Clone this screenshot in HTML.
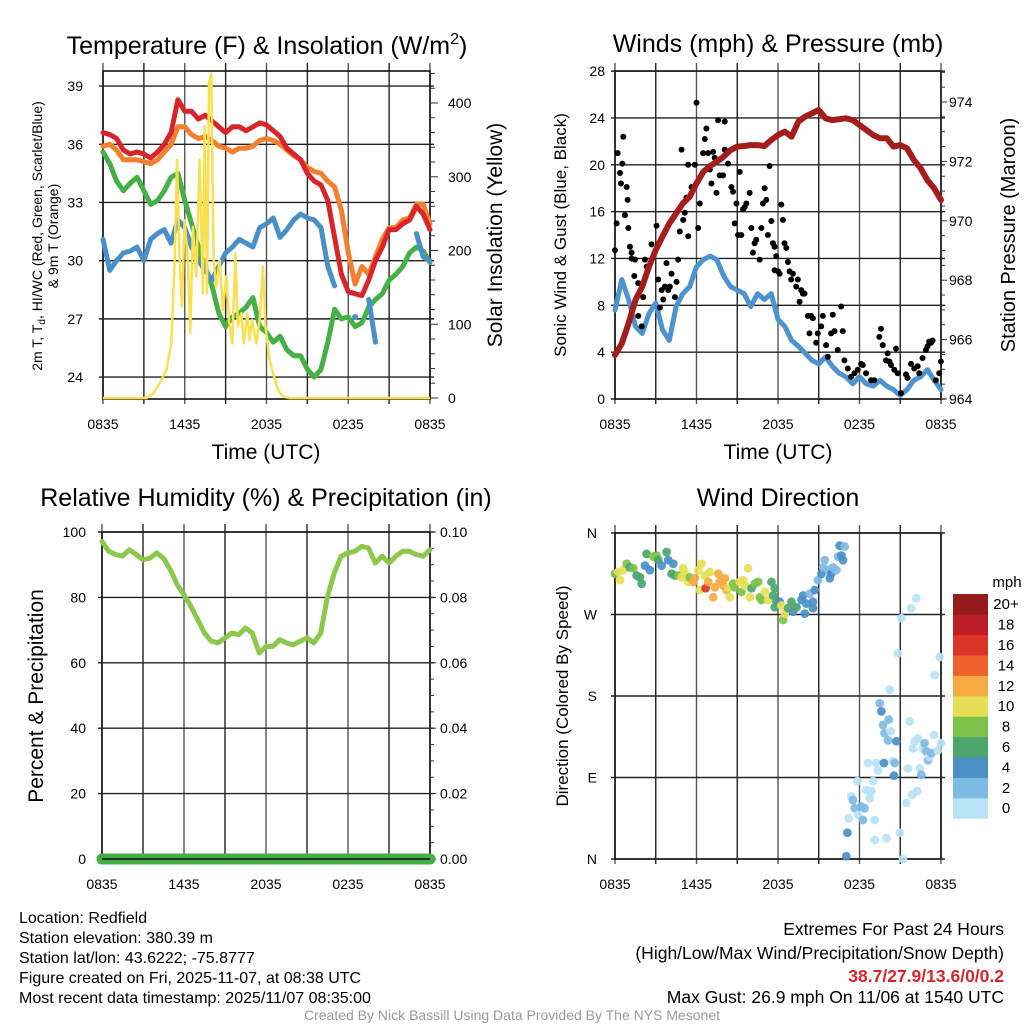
<!DOCTYPE html>
<html><head><meta charset="utf-8"><style>
html,body{margin:0;padding:0;background:#fff}
svg{display:block}
text{font-family:"Liberation Sans",Arial,sans-serif;fill:#000}
</style></head><body>
<svg id="chart" width="1024" height="1024" viewBox="0 0 1024 1024" xmlns="http://www.w3.org/2000/svg">
<rect x="0" y="0" width="1024" height="1024" fill="#fff"/>
<g id="g1"></g>
<g id="g2"></g>
<g id="g3"></g>
<g id="g4"></g>

<text x="267" y="54" font-size="25" text-anchor="middle">Temperature (F) &amp; Insolation (W/m<tspan font-size="16" dy="-10">2</tspan><tspan dy="10">)</tspan></text>
<text x="778" y="52" font-size="25" text-anchor="middle">Winds (mph) &amp; Pressure (mb)</text>
<text x="266" y="506" font-size="25" text-anchor="middle">Relative Humidity (%) &amp; Precipitation (in)</text>
<text x="778" y="506" font-size="25" text-anchor="middle">Wind Direction</text>

<text transform="translate(42,236) rotate(-90)" font-size="14" text-anchor="middle">2m T, T<tspan font-size="10" dy="3">d</tspan><tspan dy="-3">, HI/WC (Red, Green, Scarlet/Blue)</tspan></text>
<text transform="translate(58,236) rotate(-90)" font-size="14" text-anchor="middle">&amp; 9m T (Orange)</text>
<text transform="translate(502,235) rotate(-90)" font-size="21" text-anchor="middle">Solar Insolation (Yellow)</text>
<text transform="translate(566,235) rotate(-90)" font-size="17" text-anchor="middle">Sonic Wind &amp; Gust (Blue, Black)</text>
<text transform="translate(1015,235) rotate(-90)" font-size="20" text-anchor="middle">Station Pressure (Maroon)</text>
<text transform="translate(43,696) rotate(-90)" font-size="21" text-anchor="middle">Percent &amp; Precipitation</text>
<text transform="translate(568,696) rotate(-90)" font-size="17" text-anchor="middle">Direction (Colored By Speed)</text>
<text x="266" y="459" font-size="21" text-anchor="middle">Time (UTC)</text>
<text x="778" y="459" font-size="21" text-anchor="middle">Time (UTC)</text>

<g font-size="16">
<text x="19" y="923">Location: Redfield</text>
<text x="19" y="943">Station elevation: 380.39 m</text>
<text x="19" y="963">Station lat/lon: 43.6222; -75.8777</text>
<text x="19" y="983">Figure created on Fri, 2025-11-07, at 08:38 UTC</text>
<text x="19" y="1003">Most recent data timestamp: 2025/11/07 08:35:00</text>
</g>
<g font-size="17.5" text-anchor="end">
<text x="1004" y="935">Extremes For Past 24 Hours</text>
<text x="1004" y="959">(High/Low/Max Wind/Precipitation/Snow Depth)</text>
<text x="1004" y="982" font-weight="bold" style="fill:#d7262b">38.7/27.9/13.6/0/0.2</text>
<text x="1004" y="1003">Max Gust: 26.9 mph On 11/06 at 1540 UTC</text>
</g>
<text x="512" y="1020" font-size="14" text-anchor="middle" style="fill:#999">Created By Nick Bassill Using Data Provided By The NYS Mesonet</text>
</svg>
<script>
// ---------- data ----------
const xTickLabels = ["0835","1435","2035","0235","0835"];
const tempTicks = [24,27,30,33,36,39];
const insolTicks = [0,100,200,300,400];
const windTicks = [0,4,8,12,16,20,24,28];
const presTicks = [964,966,968,970,972,974];
const rhTicks = [0,20,40,60,80,100];
const precipTicks = ["0.00","0.02","0.04","0.06","0.08","0.10"];
const dirTicks = ["N","E","S","W","N"];
const speedBins = ["0","2","4","6","8","10","12","14","16","18","20+"];
const speedColors = ["#b8e2f6","#7fbae3","#4a8fc6","#4aa66c","#7cc24a","#e6df55","#f6aa42","#ee612b","#db3428","#bc1c24","#941a1c"];

const red = [36.6,36.5,36.3,35.7,35.5,35.6,35.5,35.3,35.6,36.0,36.6,38.3,37.7,37.7,37.3,37.5,37.2,36.9,36.6,36.9,36.9,36.7,36.9,37.1,37.0,36.7,36.4,35.8,35.5,35.2,34.5,34.1,33.9,33.1,31.2,29.3,28.4,28.3,28.2,29.0,30.0,30.7,31.6,31.6,31.9,32.1,32.8,32.4,31.6];
const orange = [35.9,36.0,35.7,35.2,35.2,35.2,35.1,35.0,35.2,35.6,36.0,36.9,36.9,36.5,36.3,36.4,36.2,35.9,35.8,35.6,35.8,35.8,35.9,36.2,36.3,36.2,36.0,35.7,35.4,35.2,34.8,34.6,34.5,34.1,33.8,32.6,30.4,28.8,29.7,29.3,30.2,31.1,31.7,31.7,32.1,32.2,32.9,32.9,31.9];
const green = [35.6,35.0,34.1,33.6,34.0,34.3,33.6,32.9,33.1,33.6,34.3,34.5,33.1,31.9,30.7,29.7,28.7,27.3,26.6,27.1,27.3,27.6,28.1,26.6,26.3,25.8,26.1,25.4,25.1,25.1,24.4,24.0,24.4,25.8,27.5,27.0,27.1,26.6,26.8,27.6,28.0,28.3,29.0,29.3,29.7,30.4,30.7,30.5,29.9];
const blue = [31.1,29.5,30.0,30.4,30.5,30.7,30.0,31.1,31.4,31.6,30.9,32.1,31.7,30.7,30.0,29.5,29.0,29.7,30.4,30.7,31.1,30.9,30.7,31.7,31.9,32.2,31.2,31.6,32.1,32.4,32.2,32.1,31.7,29.7,28.7,null,null,27.1,null,28.0,25.8,null,null,null,null,null,31.4,30.2,30.0];
const insolHours = [0,3.2,3.67,4.16,4.65,5.01,5.26,5.43,5.62,5.79,5.99,6.23,6.41,6.6,6.85,7.09,7.33,7.46,7.63,7.78,7.95,8.12,8.31,8.56,8.8,9.05,9.24,9.49,9.71,9.9,10.15,10.34,10.59,10.76,10.95,11.25,11.49,11.74,11.93,12.22,12.47,12.84,13.2,13.69,24];
const insolVals = [0,0,6,20,38,74,187,323,187,124,241,187,88,232,165,323,142,368,142,427,440,187,151,187,119,165,106,74,196,97,115,74,115,79,106,74,106,178,97,52,34,11,2,0,0];

const pressure = [965.48,965.87,966.55,967.33,967.78,968.46,969.02,969.47,969.91,970.25,970.59,970.81,971.26,971.65,971.85,971.99,972.16,972.38,972.50,972.52,972.55,972.55,972.52,972.72,972.89,973.00,972.83,973.34,973.51,973.62,973.73,973.45,973.39,973.42,973.45,973.39,973.23,973.06,972.89,972.78,972.78,972.50,972.55,972.44,972.05,971.77,971.37,971.09,970.70];
const wind = [7.6,10.2,8.5,6.2,5.6,7.3,8.2,5.9,5.0,7.9,9.0,9.6,11.3,11.9,12.2,11.9,10.5,9.6,9.3,9.0,7.9,9.0,8.5,9.0,6.8,6.2,5.0,4.5,3.9,3.3,3.0,3.6,2.8,2.2,1.9,1.3,1.9,1.3,1.1,1.6,1.1,0.8,0.3,0.8,1.6,1.9,2.5,1.6,0.8];
const gustHours = [0,.12,.2,.37,.44,.54,.61,.73,.86,.93,.98,1.1,1.22,1.22,1.47,1.42,1.71,1.71,1.96,2.08,2.2,2.33,2.69,3.06,3.18,3.3,3.43,3.55,3.67,3.79,3.92,4.04,4.16,4.41,4.53,4.65,4.77,4.9,5.02,5.14,5.26,5.39,5.39,5.63,5.88,6.0,6.12,6.24,6.49,6.61,6.73,6.85,6.98,7.1,7.22,7.34,7.47,7.59,7.71,7.96,8.08,8.08,8.32,8.57,8.69,8.81,8.94,9.06,9.18,9.3,9.42,9.55,9.67,9.91,10.04,10.16,10.28,10.4,10.65,10.77,10.89,11.02,11.14,11.26,11.38,11.51,11.63,11.75,11.75,11.87,12.0,12.12,12.24,12.36,12.48,12.61,12.73,12.85,12.97,13.1,13.34,13.46,13.59,13.71,13.83,13.95,14.2,14.32,14.44,14.57,14.81,14.93,15.18,15.3,15.54,15.67,15.91,16.03,16.16,16.4,16.65,16.77,16.89,17.14,17.38,17.63,17.87,18.12,18.24,18.48,18.85,19.09,19.46,19.58,19.71,19.95,20.07,20.2,20.32,20.56,20.69,20.81,21.05,21.42,21.54,21.79,22.03,22.28,22.4,22.64,22.89,23.01,23.13,23.26,23.38,23.62,23.87,23.99];
const gustVals = [12.7,15.0,21.0,19.3,18.4,20.1,22.4,15.7,18.1,17.0,14.6,13.0,12.5,12.0,11.9,10.5,9.9,7.1,6.2,8.7,11.9,11.3,13.2,14.8,10.2,7.8,9.3,8.5,9.6,11.6,9.3,9.6,10.7,8.7,10.0,11.9,14.3,21.3,15.3,15.9,17.2,13.9,20.0,18.1,20.0,25.3,14.6,16.7,21.0,22.2,23.1,21.0,19.6,18.4,21.1,20.6,17.6,23.8,19.1,19.1,23.7,21.3,20.1,18.1,17.7,15.0,16.7,14.0,19.4,14.0,16.2,16.4,16.7,17.6,14.6,12.5,13.3,13.6,11.9,14.6,16.7,18.0,17.0,14.0,19.9,15.2,13.3,13.0,11.0,12.2,10.9,10.7,16.6,15.3,13.3,12.9,11.7,10.9,10.2,10.7,9.6,10.2,8.3,9.3,9.0,9.0,7.1,5.6,7.1,6.9,4.8,5.6,6.2,7.1,4.6,3.6,5.6,7.2,5.8,4.2,7.9,5.8,3.3,2.6,1.9,2.2,2.5,3.0,2.9,2.2,1.6,1.6,5.3,6.0,4.6,3.3,3.9,3.2,2.9,2.5,4.3,2.2,0.5,2.1,1.8,3.0,2.6,2.8,2.2,3.5,4.2,4.5,4.9,4.8,5.0,1.6,2.2,3.2];

const rh = [97.1,94.1,93.1,92.6,94.6,93.1,91.5,92.0,93.6,92.0,88.5,83.9,80.8,77.3,73.2,69.1,66.6,66.1,67.6,69.1,68.6,70.6,69.1,63.0,65.0,65.0,67.1,66.1,65.5,66.6,67.6,66.1,69.1,80.3,87.5,92.6,93.6,94.1,95.6,95.1,90.5,92.6,90.5,92.6,94.1,94.1,93.1,92.6,94.6];
const precip = [0,0,0,0,0,0,0,0,0,0,0,0,0,0,0,0,0,0,0,0,0,0,0,0,0,0,0,0,0,0,0,0,0,0,0,0,0,0,0,0,0,0,0,0,0,0,0,0,0];

const dirHours = [0,.25,.37,.61,.86,1.1,1.35,1.59,1.84,1.96,2.21,2.33,2.57,2.82,3.06,3.19,3.43,3.8,3.92,4.29,4.17,4.41,4.66,4.9,5.15,5.02,5.39,5.51,5.76,5.88,6.13,6.25,6.37,6.62,6.67,6.86,6.99,7.23,7.35,7.6,7.72,7.97,8.09,8.21,8.33,8.46,8.7,8.82,9.19,9.31,9.44,9.56,9.8,9.93,10.05,10.29,10.54,10.66,10.78,11.03,11.27,11.52,11.64,11.76,11.89,11.76,12.13,12.25,12.38,12.5,12.75,12.99,13.11,13.36,13.73,13.85,13.97,14.09,14.34,14.58,14.58,14.71,14.95,15.2,15.32,15.44,15.69,15.81,15.93,16.05,16.3,16.42,16.54,16.67,16.79,16.91,17.03,17.11,17.21,17.4,17.52,17.65,17.84,17.89,18.14,18.26,18.38,18.5,18.63,18.75,18.87,19.0,19.12,19.12,19.24,19.36,19.49,19.61,19.73,19.8,19.85,19.98,20.1,20.15,20.22,20.29,20.47,20.54,20.59,20.71,20.83,20.96,21.08,21.2,21.45,21.57,21.69,21.81,21.86,21.94,22.06,22.18,22.25,22.3,22.43,22.55,22.67,22.79,22.92,23.04,23.16,23.28,23.48,23.53,23.77,23.9,24.0];
const dirVals = [315,317,308,319,326,322,321,313,311,304,324,337,319,334,335,330,324,339,330,326,315,313,313,311,315,321,306,311,306,310,319,297,326,313,299,306,317,289,300,315,306,302,310,297,300,289,304,300,306,295,308,302,321,289,299,304,306,289,286,295,286,306,291,299,284,278,284,280,264,271,277,284,273,278,286,291,271,282,293,284,277,297,308,315,322,330,319,310,315,322,319,334,346,335,330,345,3,29,45,69,65,56,86,49,58,43,56,76,106,67,75,86,43,21,106,98,172,163,148,106,139,23,131,154,187,141,108,92,106,130,227,29,266,0,62,100,152,277,71,122,130,288,75,133,100,93,122,128,119,109,113,117,137,203,120,223,128];
const dirSpeeds = [9,11,11,11,9,7,9,7,7,7,5,7,5,9,9,7,5,7,5,5,7,7,9,11,11,11,11,9,13,13,11,11,11,11,17,13,11,13,13,13,13,13,13,13,11,11,9,9,11,9,11,11,11,11,7,9,9,9,9,11,11,7,7,7,7,7,5,11,9,11,7,7,5,7,5,5,5,5,3,5,5,5,3,5,3,3,3,5,5,3,3,3,5,5,5,3,5,5,1,1,3,3,1,1,3,3,3,1,1,1,1,1,1,1,1,1,3,5,3,5,3,1,3,3,1,1,1,5,3,5,1,1,1,1,1,1,1,1,1,1,1,1,1,1,1,3,1,3,3,3,1,3,1,1,1,1,1];

// ---------- helpers ----------
const NS = "http://www.w3.org/2000/svg";
function mk(parent, tag, attrs){ const e=document.createElementNS(NS,tag); for(const k in attrs) e.setAttribute(k,attrs[k]); parent.appendChild(e); return e; }
function txt(parent, x, y, s, size, anchor){ const t=mk(parent,"text",{x:x,y:y,"font-size":size,"text-anchor":anchor}); t.textContent=s; return t; }
function linePath(xs, ys, xf, yf){ let d="", pen=false; for(let i=0;i<xs.length;i++){ if(ys[i]===null){pen=false;continue;} d+=(pen?"L":"M")+xf(xs[i]).toFixed(1)+","+yf(ys[i]).toFixed(1); pen=true;} return d; }
function frame(g, P, name){
  for(let i=0;i<=8;i++){
    const x=P.L+(P.R-P.L)*i/8;
    const l=mk(g,"line",{x1:x,x2:x,y1:P.T-8,y2:P.B+5,stroke:(i%2?"#222":"#555"),"stroke-width":1.4});
    
    
  }
  const r=mk(g,"rect",{x:P.L,y:P.T,width:P.R-P.L,height:P.B-P.T,fill:"none",stroke:"#111","stroke-width":1.6});
  
  
  xTickLabels.forEach((s,i)=>{
    const t=txt(g,P.L+(P.R-P.L)*i/4,P.B+30,s,14,"middle");
    
    
  });
}
function hgrid(g,y,P,name){ const l=mk(g,"line",{x1:P.L-4,x2:P.R+4,y1:y,y2:y,stroke:"#222","stroke-width":1.4});
  
   }
function rtick(g,y,P,len,name){ const l=mk(g,"line",{x1:P.R,x2:P.R+len,y1:y,y2:y,stroke:"#333","stroke-width":1});
  
   }

const H = Array.from({length:49},(_, i)=>i*0.5);

// ---------- panel 1 ----------
(function(){
  const g=document.getElementById("g1");
  const P={L:103,R:430,T:71,B:399};
  const x=t=>P.L+(P.R-P.L)*t/24;
  const y=v=>P.B-(v-22.87)*19.4;
  const yi=w=>398-w*0.7375;
  frame(g,P,"temp");
  tempTicks.forEach(v=>{ hgrid(g,y(v),P,"temp"); const t=txt(g,P.L-20,y(v)+5,String(v),14,"end");
      });
  for(let w=0;w<=440;w+=20) rtick(g,yi(w),P,w%100===0?8:5,"insol");
  insolTicks.forEach(w=>{ const t=txt(g,P.R+18,yi(w)+5,String(w),14,"start");
      });
  const series=[[green,"#45b045","dewpoint-line"],[blue,"#4a90c8","windchill-line"],[orange,"#f47f2e","temp-9m-line"],[red,"#d7262b","temp-2m-line"]];
  series.forEach(s=>{ const p=mk(g,"path",{d:linePath(H,s[0],x,y),fill:"none",stroke:s[1],"stroke-width":5,"stroke-linejoin":"round","stroke-linecap":"round"});
      });
  blue.forEach((v,i)=>{ if(v!==null && (i===0||blue[i-1]===null) && (i===48||blue[i+1]===null)){ const c=mk(g,"circle",{cx:x(H[i]),cy:y(v),r:3,fill:"#4a90c8"});
      }});
  const yp=mk(g,"path",{d:linePath(insolHours,insolVals,x,yi),fill:"none",stroke:"#f8e04e","stroke-width":2.5,"stroke-linejoin":"round"});
   
})();

// ---------- panel 2 ----------
(function(){
  const g=document.getElementById("g2");
  const P={L:615,R:941,T:71,B:399};
  const x=t=>P.L+(P.R-P.L)*t/24;
  const y=v=>P.B-v*11.71;
  const yp=p=>P.B-(p-964)*29.7;
  frame(g,P,"wind");
  windTicks.forEach(v=>{ hgrid(g,y(v),P,"wind"); const t=txt(g,P.L-10,y(v)+5,String(v),14,"end");
      });
  for(let p=964;p<=975;p+=0.5) rtick(g,yp(p),P,(p%2===0)?6:4,"pressure");
  presTicks.forEach(p=>{ const t=txt(g,P.R+8,yp(p)+5,String(p),14,"start");
      });
  const wl=mk(g,"path",{d:linePath(H,wind,x,y),fill:"none",stroke:"#4d93cf","stroke-width":5,"stroke-linejoin":"round","stroke-linecap":"round"});
   
  gustVals.forEach((v,i)=>{ const c=mk(g,"circle",{cx:x(gustHours[i]),cy:y(v),r:3,fill:"#000"});
      });
  const pl=mk(g,"path",{d:linePath(H,pressure,x,yp),fill:"none",stroke:"#a51c1c","stroke-width":6,"stroke-linejoin":"round","stroke-linecap":"round"});
   
})();

// ---------- panel 3 ----------
(function(){
  const g=document.getElementById("g3");
  const P={L:102,R:430,T:532,B:859};
  const x=t=>P.L+(P.R-P.L)*t/24;
  const y=v=>P.B-v*3.27;
  const yq=v=>P.B-v*3270;
  frame(g,P,"rh");
  rhTicks.forEach((v,i)=>{ hgrid(g,y(v),P,"rh"); const t=txt(g,P.L-16,y(v)+5,String(v),14,"end");
     
    const t2=txt(g,P.R+10,y(v)+5,precipTicks[i],14,"start");
      });
  for(let v=0;v<=100;v+=5) rtick(g,y(v),P,v%20===0?6:4,"precip");
  const l=mk(g,"path",{d:linePath(H,rh,x,y),fill:"none",stroke:"#8cc84b","stroke-width":5,"stroke-linejoin":"round","stroke-linecap":"round"});
   
  const pr=mk(g,"path",{d:linePath(H,precip,x,yq),fill:"none",stroke:"#45ad45","stroke-width":11,"stroke-linecap":"round"});
   
  const ax=mk(g,"line",{x1:P.L,x2:P.R,y1:P.B,y2:P.B,stroke:"#111","stroke-width":1.4});
   
})();

// ---------- panel 4 ----------
(function(){
  const g=document.getElementById("g4");
  const P={L:615,R:941,T:533,B:859};
  const x=t=>P.L+(P.R-P.L)*t/24;
  const y=d=>P.B-d*(P.B-P.T)/360;
  frame(g,P,"dir");
  dirTicks.forEach((s,i)=>{ hgrid(g,y(i*90),P,"dir"); const t=txt(g,P.L-18,y(i*90)+5,s,14,"end");
      });
  const bin=s=>Math.min(10,Math.floor(s/2));
  dirVals.forEach((d,i)=>{ const c=mk(g,"circle",{cx:x(dirHours[i]),cy:y(d),r:4.4,fill:speedColors[bin(dirSpeeds[i])],"fill-opacity":0.92});
      });
  const cb=mk(g,"g",{});
   
  const t0=txt(cb,1007,587,"mph",15,"middle");
   
  const top=594, bh=20.4;
  speedBins.forEach((s,i)=>{ const j=speedBins.length-1-i;
    const r=mk(cb,"rect",{x:953,y:top+j*bh,width:35,height:bh+0.3,fill:speedColors[i]});
     
    const t=txt(cb,1006,top+j*bh+bh/2+5,s,15,"middle");
      });
})();
</script>
</body></html>
